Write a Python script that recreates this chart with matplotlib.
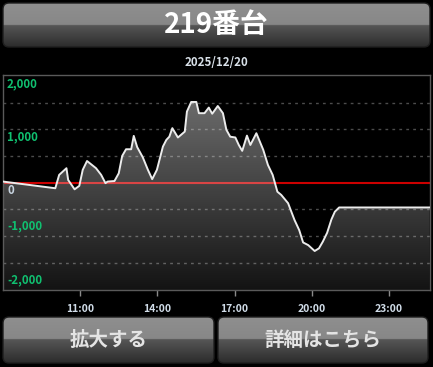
import matplotlib
matplotlib.use("Agg")
import matplotlib.pyplot as plt
import numpy as np
from matplotlib.patches import FancyBboxPatch
from matplotlib.transforms import blended_transform_factory

plt.rcParams['font.family'] = ['Noto Sans CJK JP', 'DejaVu Sans']

# データ
title = "219番台"
date_label = "2025/12/20"
times = ["8:00", "10:02", "10:11", "10:28", "10:32", "10:47", "10:58", "11:06", "11:16",
         "11:37", "11:49", "11:59", "12:04", "12:20", "12:30", "12:38", "12:47", "12:59",
         "13:05", "13:13", "13:26", "13:38", "13:48", "13:59", "14:13", "14:21", "14:28",
         "14:35", "14:48", "15:04", "15:09", "15:19", "15:31", "15:37", "15:50", "16:00",
         "16:08", "16:21", "16:33", "16:41", "16:50", "17:02", "17:10", "17:18", "17:29",
         "17:37", "17:51", "18:07", "18:18", "18:29", "18:40", "18:49", "19:05", "19:20",
         "19:31", "19:40", "19:52", "20:07", "20:17", "20:26", "20:36", "20:46", "20:54",
         "21:04", "24:35"]
values = [20, -105, 145, 270, 50, -125, -60, 240, 405, 270, 145, -10, 20, 30, 175, 500,
          625, 625, 875, 665, 475, 240, 65, 240, 675, 800, 860, 1020, 845, 955, 1330,
          1510, 1510, 1300, 1300, 1405, 1290, 1435, 1300, 990, 860, 845, 705, 595, 880,
          705, 925, 615, 330, 145, -170, -230, -385, -700, -890, -1120, -1170, -1280,
          -1230, -1105, -940, -690, -545, -465, -465]
tick_hours = [11, 14, 17, 20, 23]
tick_labels = ["11:00", "14:00", "17:00", "20:00", "23:00"]
y_labels = [2000, 1000, 0, -1000, -2000]
grid_levels = [-1500, -1000, -500, 500, 1000, 1500]

hours = np.array([int(s.split(":")[0]) + int(s.split(":")[1]) / 60 for s in times])
vals = np.array(values)

W, H = 433, 367
fig = plt.figure(figsize=(W / 100, H / 100), dpi=100, facecolor='black')

# 背景（ボタン・タイトルバー）
bg = fig.add_axes([0, 0, 1, 1], zorder=-1)
bg.set_facecolor('black')
bg.axis('off')


def gradient_box(x0, y0, x1, y1, split, text, fs, color):
    patch = FancyBboxPatch((x0, y0), x1 - x0, y1 - y0,
                           boxstyle='round,pad=0,rounding_size=6',
                           facecolor='none', edgecolor='#1e1e1e', lw=1, zorder=3)
    bg.add_patch(patch)
    n = 200
    k = int(n * split)
    col = np.concatenate([np.linspace(0.56, 0.53, k), np.linspace(0.34, 0.17, n - k)])
    img = np.repeat(col[:, None, None], 3, axis=2)
    im = bg.imshow(img, extent=[x0, x1, y1, y0], aspect='auto', origin='upper',
                   interpolation='bilinear', zorder=2)
    im.set_clip_path(patch)
    bg.text((x0 + x1) / 2, (y0 + y1) / 2, text, ha='center', va='center',
            fontsize=fs, fontweight='bold', color=color, zorder=4)


gradient_box(3, 3, 430, 47, 0.5, title, 20, 'white')
gradient_box(3, 317, 214, 363, 0.48, "拡大する", 14, '#e4e4e4')
gradient_box(218, 317, 428, 363, 0.48, "詳細はこちら", 14, '#e4e4e4')
bg.text(216, 63, date_label, ha='center', va='center', fontsize=8.3,
        fontweight='bold', color='#d8e0e8')
bg.set_xlim(0, W)
bg.set_ylim(H, 0)

# グラフ
ax = fig.add_axes([3 / W, (H - 290) / H, 427 / W, 215 / H])
ax.set_facecolor('black')
x0, x1 = 8.0, 24.6
ylo, yhi = -2010, 2015

for g in grid_levels:
    ax.axhline(g, color='#4c4c4c', lw=1, ls=(0, (2, 3)), zorder=1)
ax.axhline(0, color='#cc0000', lw=1.5, zorder=1)

grad = np.ones((256, 1, 4))
grad[:, 0, 3] = np.linspace(0.08, 0.47, 256)
im = ax.imshow(grad, extent=[x0, x1, ylo, yhi], origin='lower', aspect='auto',
               interpolation='bilinear', zorder=2)
poly = ax.fill_between(hours, vals, ylo, facecolor='none', edgecolor='none')
im.set_clip_path(poly.get_paths()[0], transform=ax.transData)

ax.plot(hours, vals, color='#ececec', lw=1.4, zorder=3)

ax.set_xlim(x0, x1)
ax.set_ylim(ylo, yhi)
ax.set_yticks([])
ax.set_xticks(tick_hours)
ax.set_xticklabels(tick_labels, fontsize=7.5, fontweight='bold', color='#d0dce8')
ax.tick_params(axis='x', length=4, width=1, color='#8a8a8a', pad=6)
for s in ax.spines.values():
    s.set_color('#5a5a5a')
    s.set_linewidth(1)

tr = blended_transform_factory(ax.transAxes, ax.transData)
for v in y_labels:
    lab = f"{v:,}"
    c = '#c8d4e0' if v == 0 else '#10c070'
    off = -8 if v >= 0 else 10
    ax.annotate(lab, xy=(0, v), xycoords=tr, xytext=(4, off), textcoords='offset pixels',
                ha='left', va='center', fontsize=8.3, fontweight='bold', color=c, zorder=5)

fig.savefig('out.png', dpi=100, facecolor='black')
